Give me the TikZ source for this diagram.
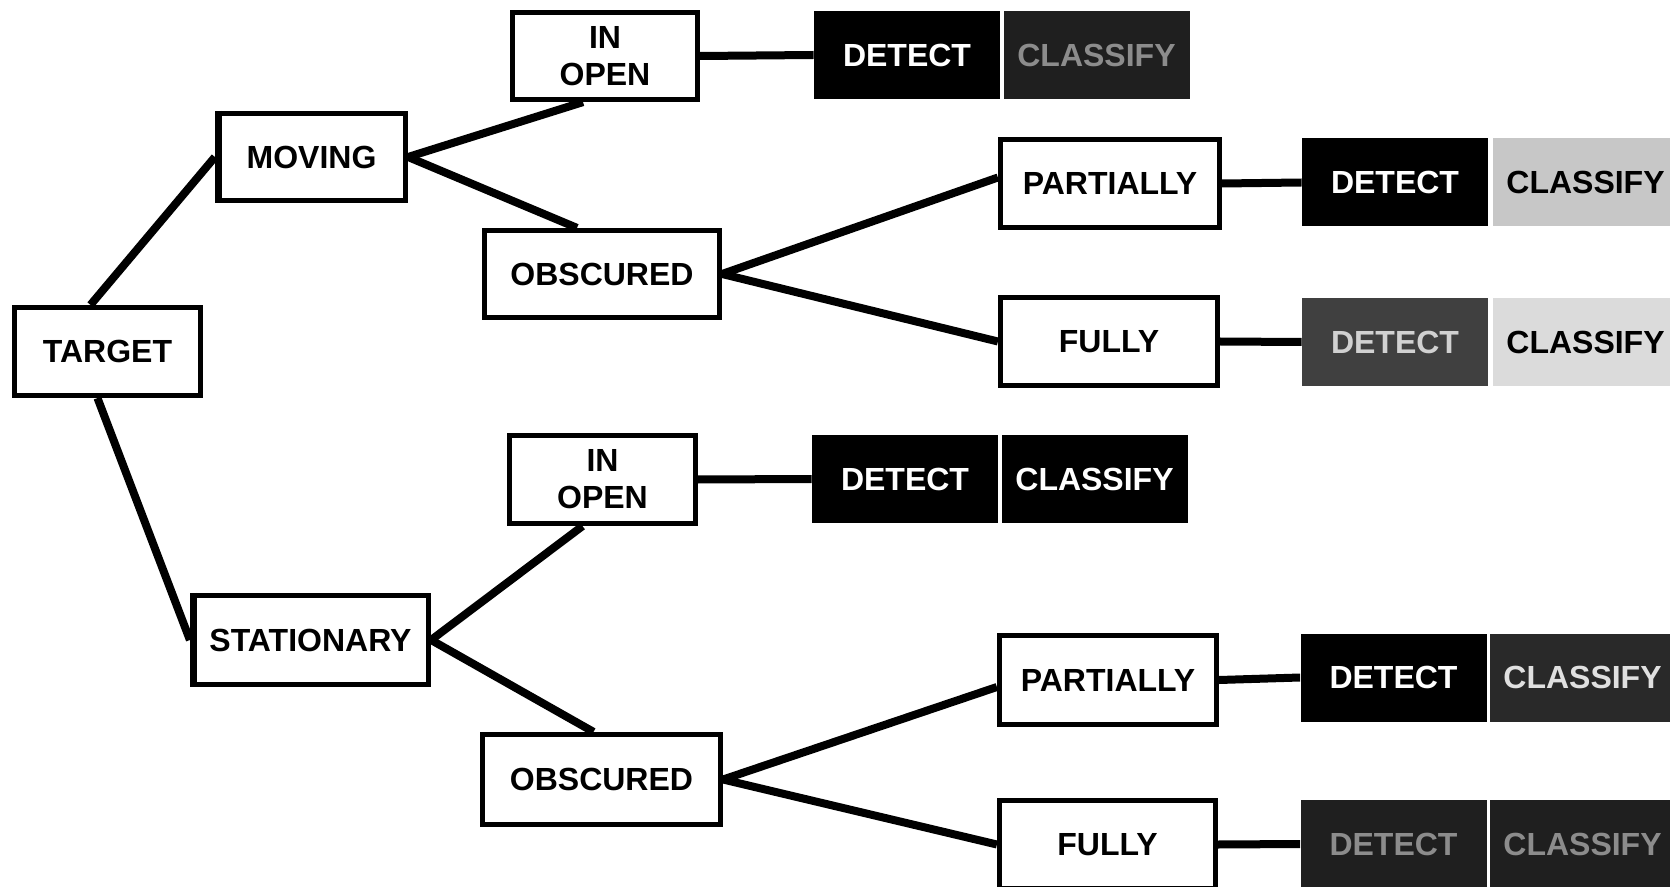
\documentclass[tikz,border=0pt]{standalone}
\usepackage{fontspec}
\setmainfont{Liberation Sans}
\usetikzlibrary{calc}
\begin{document}
\begin{tikzpicture}[x=0.5pt,y=-0.5pt,
  lab/.style={draw=black,line width=2.6pt,fill=white,inner sep=0pt,align=center,
    font=\bfseries\fontsize{16}{18.5}\selectfont},
  conn/.style={line width=4pt},
  dcbox/.style={inner sep=0pt,minimum width=93pt,minimum height=44pt,
    font=\bfseries\fontsize{16}{18.5}\selectfont},
  blk/.style={dcbox,fill=black,text=white},
  grn/.style={dcbox,fill=black!88,text=black!45},
  ltg/.style={dcbox,fill=black!22,text=black},
  dkg/.style={dcbox,fill=black!75,text=black!18},
  lig/.style={dcbox,fill=black!14,text=black},
  dkw/.style={dcbox,fill=black!84,text=black!12}
]
\clip (0,0) rectangle (1670,887);
\fill[white] (0,0) rectangle (1670,887);

% tree nodes
\node[lab,minimum width=93pt,minimum height=44pt] (target) at (107.5,351.5) {TARGET};
\node[lab,minimum width=94pt,minimum height=43.5pt] (moving) at (311.5,157) {MOVING};
\node[lab,minimum width=118pt,minimum height=44.5pt] (stationary) at (310.5,640) {STATIONARY};
\node[lab,minimum width=92.5pt,minimum height=43.5pt] (inopen1) at (605,56) {IN\\OPEN};
\node[lab,minimum width=117.5pt,minimum height=43.5pt] (obscured1) at (602,274) {OBSCURED};
\node[lab,minimum width=93pt,minimum height=44pt] (inopen2) at (602.5,479.5) {IN\\OPEN};
\node[lab,minimum width=119pt,minimum height=45pt] (obscured2) at (601.5,779.5) {OBSCURED};
\node[lab,minimum width=109.5pt,minimum height=44pt] (partially1) at (1110,183.5) {PARTIALLY};
\node[lab,minimum width=108.5pt,minimum height=44pt] (fully1) at (1109,341.5) {FULLY};
\node[lab,minimum width=108.5pt,minimum height=44.5pt] (partially2) at (1108,680) {PARTIALLY};
\node[lab,minimum width=108pt,minimum height=44pt] (fully2) at (1107.5,844.5) {FULLY};

% thickened left edges
\draw[line width=2pt] ([xshift=2.5pt]moving.north west) -- ([xshift=2.5pt]moving.south west);
\draw[line width=2pt] ([xshift=2.5pt]stationary.north west) -- ([xshift=2.5pt]stationary.south west);

% detect / classify blocks
\node[blk] (detect1) at (907,55) {DETECT};
\node[grn] (classify1) at (1096.5,55) {CLASSIFY};
\node[blk] (detect2) at (1395,182.5) {DETECT};
\node[ltg] (classify2) at (1585.5,182.5) {CLASSIFY};
\node[dkg] (detect3) at (1395,342) {DETECT};
\node[lig] (classify3) at (1585.5,342) {CLASSIFY};
\node[blk] (detect4) at (905,479) {DETECT};
\node[blk] (classify4) at (1094.5,479) {CLASSIFY};
\node[blk] (detect5) at (1393.5,677.5) {DETECT};
\node[dkw] (classify5) at (1582.5,677.5) {CLASSIFY};
\node[grn] (detect6) at (1393.5,844) {DETECT};
\node[grn] (classify6) at (1582.5,844) {CLASSIFY};

% connectors
\draw[conn] ($(target.north)+(-17,0)$) -- (moving.west);
\draw[conn] ($(target.south)+(-10,0)$) -- (stationary.west);
\draw[conn] (moving.east) -- ($(inopen1.south)+(-22,0)$);
\draw[conn] (moving.east) -- ($(obscured1.north)+(-25,0)$);
\draw[conn] (obscured1.east) -- ($(partially1.west)+(0,-6)$);
\draw[conn] (obscured1.east) -- (fully1.west);
\draw[conn] (inopen1.east) -- (detect1.west);
\draw[conn] (partially1.east) -- (detect2.west);
\draw[conn] (fully1.east) -- (detect3.west);
\draw[conn] (stationary.east) -- ($(inopen2.south)+(-20,0)$);
\draw[conn] (stationary.east) -- ($(obscured2.north)+(-8,0)$);
\draw[conn] (obscured2.east) -- ($(partially2.west)+(0,7)$);
\draw[conn] (obscured2.east) -- (fully2.west);
\draw[conn] (inopen2.east) -- (detect4.west);
\draw[conn] (partially2.east) -- (detect5.west);
\draw[conn] (fully2.east) -- (detect6.west);
\end{tikzpicture}
\end{document}
